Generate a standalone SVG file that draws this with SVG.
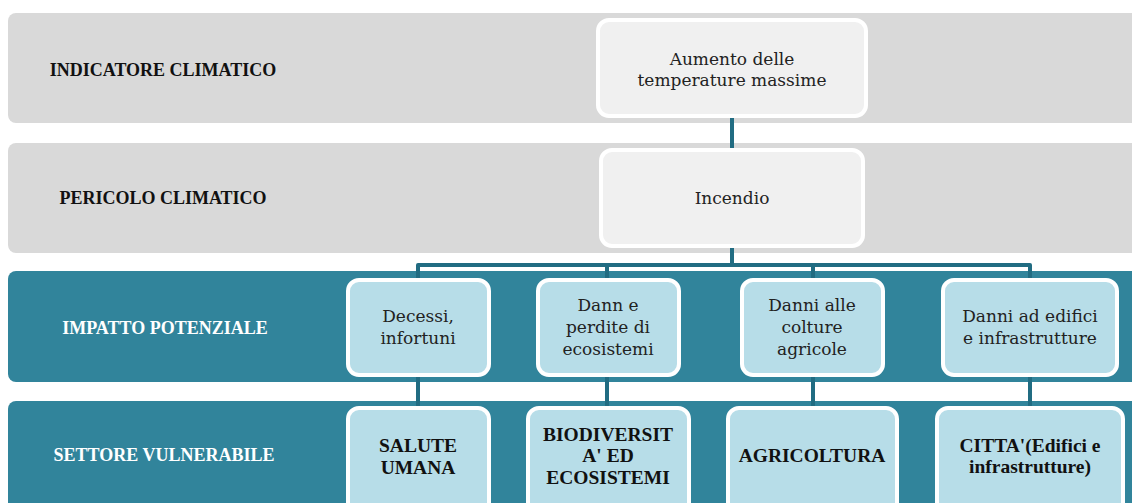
<svg xmlns="http://www.w3.org/2000/svg" width="1132" height="503" viewBox="0 0 1132 503">
<style>
.bandg{fill:#d9d9d9}
.bandt{fill:#31849b}
.lbl{font-family:"Liberation Serif",serif;font-weight:bold;font-size:18px;text-anchor:middle}
.lblg{fill:#111}
.lblw{fill:#ffffff}
.ng{fill:#f0f0f0;stroke:#ffffff;stroke-width:4}
.nb{fill:#b7dde8;stroke:#ffffff;stroke-width:4}
.t{font-family:"DejaVu Serif",serif;font-size:17px;fill:#222;text-anchor:middle}
.tb{font-family:"Liberation Serif",serif;font-weight:bold;font-size:19.5px;fill:#111;text-anchor:middle}
.c{fill:none;stroke:#216c82;stroke-width:4;stroke-linejoin:round}
</style>
<rect width="1132" height="503" fill="#ffffff"/>
<g id="bands">
<rect class="bandg" x="8" y="13" width="1140" height="110" rx="8"/>
<rect class="bandg" x="8" y="143" width="1140" height="110" rx="8"/>
<rect class="bandt" x="8" y="271" width="1140" height="111" rx="8"/>
<rect class="bandt" x="8" y="401" width="1140" height="120" rx="8"/>
<text class="lbl lblg" x="163" y="76">INDICATORE CLIMATICO</text>
<text class="lbl lblg" x="163" y="204">PERICOLO CLIMATICO</text>
<text class="lbl lblw" x="165" y="334">IMPATTO POTENZIALE</text>
<text class="lbl lblw" x="164" y="461">SETTORE VULNERABILE</text>
</g>
<g id="connectors">
<path class="c" d="M732 117V149"/>
<path class="c" d="M732 247V265"/>
<path class="c" d="M418 279V265H1030V279"/>
<path class="c" d="M607 265V279"/>
<path class="c" d="M813 265V279"/>
<path class="c" d="M418 375V407"/>
<path class="c" d="M607 375V407"/>
<path class="c" d="M813 375V407"/>
<path class="c" d="M1030 375V407"/>
</g>
<g id="n-aumento">
<rect class="ng" x="598" y="20" width="268" height="96" rx="11"/>
<text class="t" x="732" y="65">Aumento delle</text>
<text class="t" x="732" y="86">temperature massime</text>
</g>
<g id="n-incendio">
<rect class="ng" x="601" y="150" width="262" height="96" rx="11"/>
<text class="t" x="732" y="204">Incendio</text>
</g>
<g id="n-decessi">
<rect class="nb" x="348" y="280" width="141" height="95" rx="11"/>
<text class="t" x="418" y="322">Decessi,</text>
<text class="t" x="418" y="344">infortuni</text>
</g>
<g id="n-dann">
<rect class="nb" x="538" y="280" width="141" height="95" rx="11"/>
<text class="t" x="608" y="311">Dann e</text>
<text class="t" x="608" y="333">perdite di</text>
<text class="t" x="608" y="355">ecosistemi</text>
</g>
<g id="n-colture">
<rect class="nb" x="742" y="280" width="141" height="95" rx="11"/>
<text class="t" x="812" y="311">Danni alle</text>
<text class="t" x="812" y="333">colture</text>
<text class="t" x="812" y="355">agricole</text>
</g>
<g id="n-edifici">
<rect class="nb" x="943" y="280" width="174" height="95" rx="11"/>
<text class="t" x="1030" y="322">Danni ad edifici</text>
<text class="t" x="1030" y="344">e infrastrutture</text>
</g>
<g id="n-salute">
<rect class="nb" x="348" y="408" width="141" height="110" rx="11"/>
<text class="tb" x="418" y="452">SALUTE</text>
<text class="tb" x="418" y="474">UMANA</text>
</g>
<g id="n-biodiversita">
<rect class="nb" x="528" y="408" width="161" height="110" rx="11"/>
<text class="tb" x="608" y="441">BIODIVERSIT</text>
<text class="tb" x="608" y="462">A' ED</text>
<text class="tb" x="608" y="484">ECOSISTEMI</text>
</g>
<g id="n-agricoltura">
<rect class="nb" x="728" y="408" width="169" height="110" rx="11"/>
<text class="tb" x="812" y="462">AGRICOLTURA</text>
</g>
<g id="n-citta">
<rect class="nb" x="937" y="408" width="186" height="110" rx="11"/>
<text class="tb" x="1030" y="452">CITTA'(Edifici e</text>
<text class="tb" x="1030" y="473">infrastrutture)</text>
</g>
</svg>
